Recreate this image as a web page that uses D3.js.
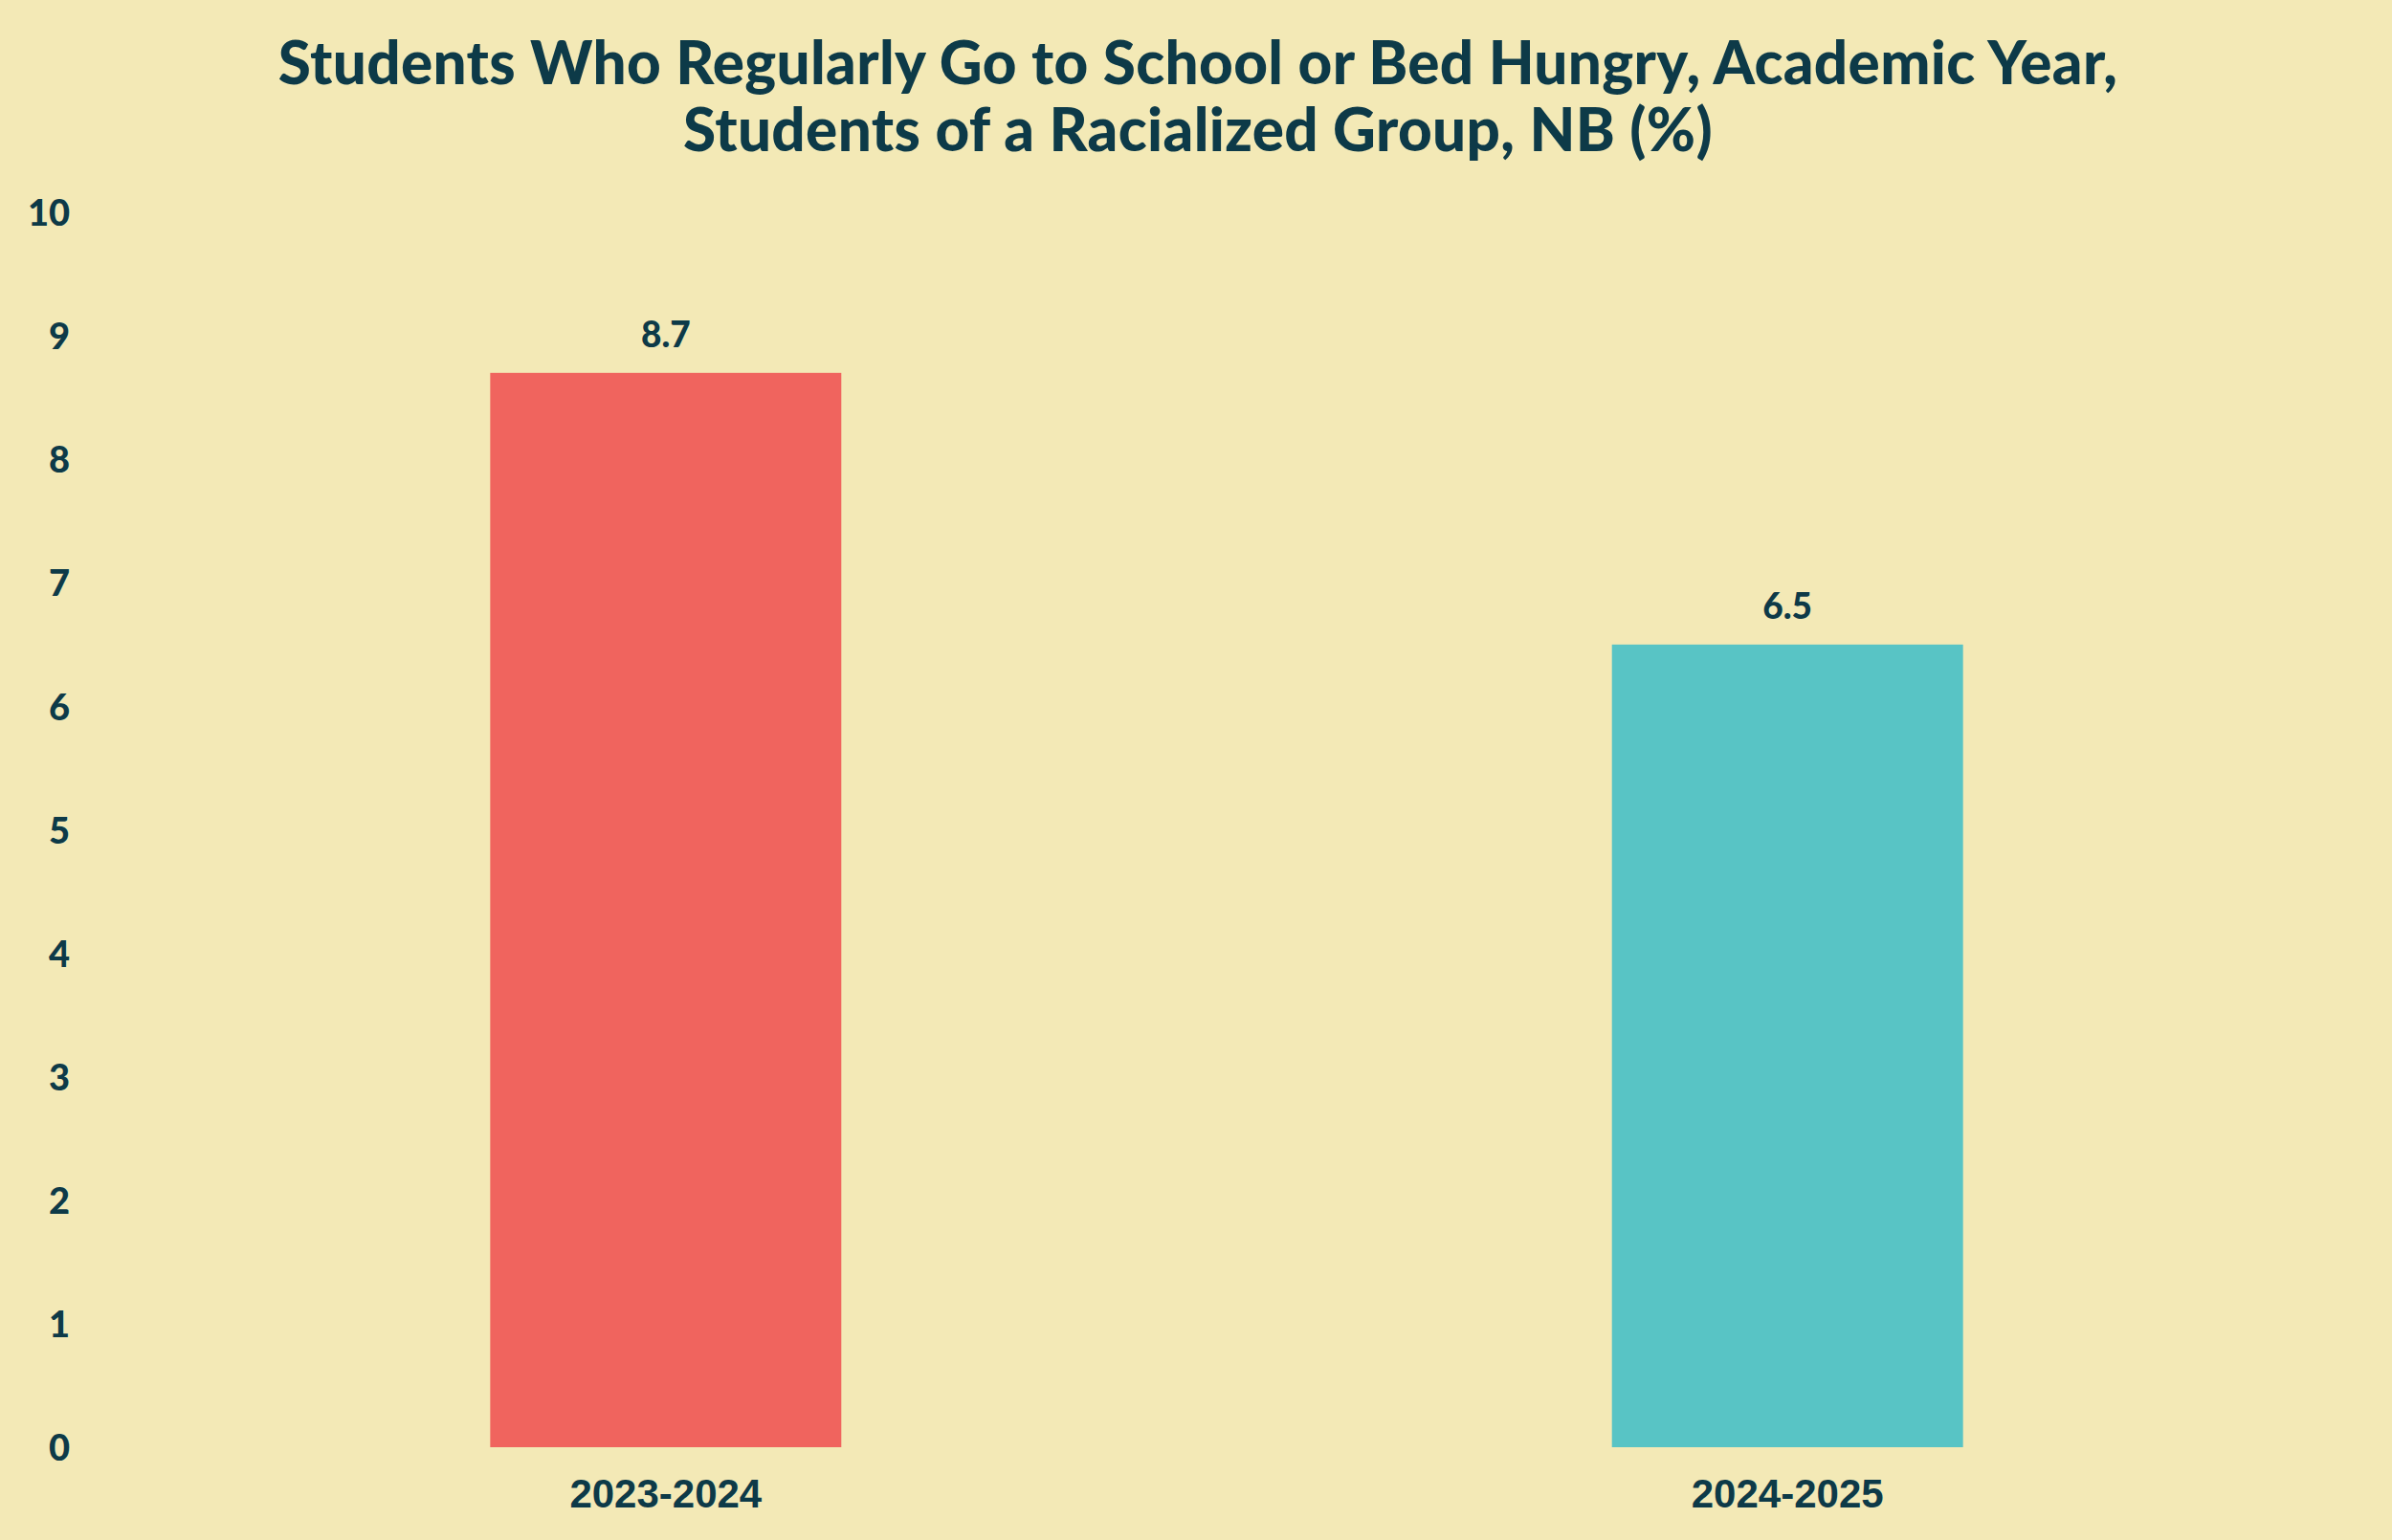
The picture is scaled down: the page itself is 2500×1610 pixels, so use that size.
<!DOCTYPE html>
<html>
  <body style="margin:0;">
    <style>
      body {
        background: #f3e9b6;
      }
      svg {
        display: block;
      }
      .title {
        font-family: Lato, 'Open Sans', sans-serif;
        font-weight: 900;
        font-size: 62px;
        letter-spacing: 0.35px;
        fill: #0d3a48;
      }
      .tick text {
        font-family: Lato, sans-serif;
        font-weight: 900;
        font-size: 38px;
        fill: #0d3a48;
      }
      .xlab {
        font-family: 'Liberation Sans', Arial, sans-serif;
        font-weight: bold;
        font-size: 42px;
        fill: #0d3a48;
      }
      .val {
        font-family: Lato, sans-serif;
        font-weight: 900;
        font-size: 37px;
        fill: #0d3a48;
      }
    </style>
    <div class="chart"></div>
    <script src="https://d3js.org/d3.v7.min.js"></script>
    <script type="text/javascript">
      const years = ['2023-2024', '2024-2025'];
      const values = [8.7, 6.5];
      const colors = ['#f0645e', '#58c4c5'];
      const yTicks = [0, 1, 2, 3, 4, 5, 6, 7, 8, 9, 10];
      const titleLines = [
        'Students Who Regularly Go to School or Bed Hungry, Academic Year,',
        'Students of a Racialized Group, NB (%)',
      ];

      const width = 2500;
      const height = 1610;
      const margin = { top: 222, right: 38, bottom: 97, left: 102 };

      const svg = d3
        .select('.chart')
        .append('svg')
        .attr('width', width)
        .attr('height', height);

      svg
        .append('rect')
        .attr('width', width)
        .attr('height', height)
        .attr('fill', '#f3e9b6');

      // title
      svg
        .selectAll('.title')
        .data(titleLines)
        .enter()
        .append('text')
        .attr('class', 'title')
        .attr('x', 1252)
        .attr('y', (d, i) => 88 + i * 70)
        .attr('text-anchor', 'middle')
        .text((d) => d);

      const x = d3
        .scaleBand()
        .domain(years)
        .range([margin.left, width - margin.right])
        .paddingInner(0.687)
        .paddingOuter(0.35);

      const y = d3
        .scaleLinear()
        .domain([0, 10])
        .range([height - margin.bottom, margin.top]);

      svg
        .selectAll('rect.bar')
        .data(values)
        .enter()
        .append('rect')
        .attr('class', 'bar')
        .attr('x', (d, i) => x(years[i]))
        .attr('y', (d) => y(d))
        .attr('width', x.bandwidth())
        .attr('height', (d) => y(0) - y(d))
        .attr('fill', (d, i) => colors[i]);

      svg
        .selectAll('text.val')
        .data(values)
        .enter()
        .append('text')
        .attr('class', 'val')
        .attr('x', (d, i) => x(years[i]) + x.bandwidth() / 2)
        .attr('y', (d) => y(d) - 27)
        .attr('text-anchor', 'middle')
        .text((d) => d.toFixed(1));

      // y axis, no line, no ticks marks
      const axisLeft = d3.axisLeft(y).tickValues(yTicks).tickSize(0).tickPadding(0);
      const gy = svg
        .append('g')
        .attr('transform', 'translate(73, 0)')
        .call(axisLeft);
      gy.select('.domain').remove();
      gy.selectAll('.tick text').attr('dy', '0.36em');

      // x labels
      svg
        .selectAll('text.xlab')
        .data(years)
        .enter()
        .append('text')
        .attr('class', 'xlab')
        .attr('x', (d) => x(d) + x.bandwidth() / 2)
        .attr('y', 1576)
        .attr('text-anchor', 'middle')
        .text((d) => d);
    </script>
  </body>
</html>
